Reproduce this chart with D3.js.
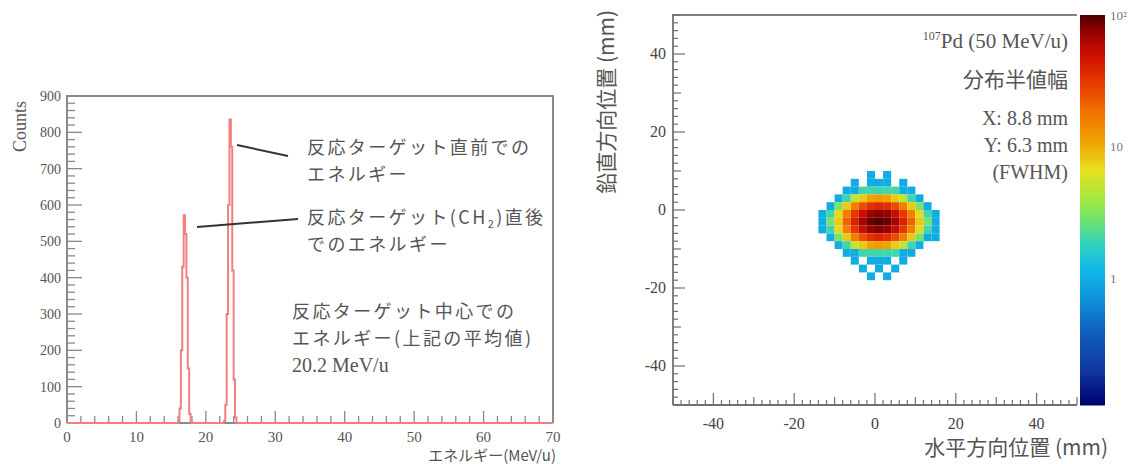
<!DOCTYPE html>
<html>
<head>
<meta charset="utf-8">
<script src="https://cdn.jsdelivr.net/npm/d3@7"></script>
<style>
  body { margin: 0; background: #fff; }
  svg { display: block; }
  .serif { font-family: "Liberation Serif", "DejaVu Serif", serif; }
  .jp { font-family: "Noto Sans CJK JP", sans-serif; }
</style>
</head>
<body>
<div id="chart"></div>
<script>
// ---- left panel: energy spectrum (bin low edges, width 0.2 MeV/u) ----
var binWidth = 0.2;
var binLow = [16.0, 16.2, 16.4, 16.6, 16.8, 17.0, 17.2, 17.4, 17.6, 17.8,
              22.6, 22.8, 23.0, 23.2, 23.4, 23.6, 23.8, 24.0, 24.2];
var binCounts = [5, 40, 200, 430, 572, 520, 400, 150, 25, 3,
                 5, 50, 300, 600, 835, 760, 420, 120, 15];
var energyTicks = [0, 10, 20, 30, 40, 50, 60, 70];
var countTicks = [0, 100, 200, 300, 400, 500, 600, 700, 800, 900];

// ---- right panel: beam spot (2 mm bins) ----
var xCenters = [-13, -11, -9, -7, -5, -3, -1, 1, 3, 5, 7, 9, 11, 13, 15, 17];
var yCenters = [11, 9, 7, 5, 3, 1, -1, -3, -5, -7, -9, -11, -13, -15, -17, -19];
var spotCounts = [
  [0, 0, 0, 0, 0, 0, 0, 0, 0, 0, 0, 0, 0, 0, 0, 0],
  [0, 0, 0, 0, 0, 0, 1, 0, 1, 0, 0, 0, 0, 0, 0, 0],
  [0, 0, 0, 0, 1, 0, 1, 1, 1, 0, 1, 0, 0, 0, 0, 0],
  [0, 0, 0, 1, 1, 2, 2, 2, 2, 2, 1, 1, 0, 0, 0, 0],
  [0, 0, 1, 2, 5, 8, 11, 12, 11, 8, 5, 2, 1, 0, 0, 0],
  [0, 1, 3, 8, 16, 26, 35, 39, 35, 26, 16, 8, 3, 1, 0, 0],
  [1, 2, 7, 16, 32, 53, 72, 79, 72, 53, 32, 16, 7, 2, 1, 0],
  [1, 3, 8, 21, 41, 67, 91, 100, 91, 67, 41, 21, 8, 3, 1, 0],
  [1, 2, 7, 16, 32, 53, 72, 79, 72, 53, 32, 16, 7, 2, 1, 0],
  [0, 1, 3, 8, 16, 26, 35, 39, 35, 26, 16, 8, 3, 1, 1, 0],
  [0, 0, 1, 2, 5, 8, 11, 12, 11, 8, 5, 2, 1, 0, 0, 0],
  [0, 0, 0, 1, 1, 2, 2, 2, 2, 2, 1, 1, 0, 0, 0, 0],
  [0, 0, 0, 0, 1, 0, 1, 1, 1, 0, 1, 0, 0, 0, 0, 0],
  [0, 0, 0, 0, 0, 1, 0, 1, 0, 1, 0, 0, 0, 0, 0, 0],
  [0, 0, 0, 0, 0, 0, 1, 0, 1, 0, 0, 0, 0, 0, 0, 0],
  [0, 0, 0, 0, 0, 0, 0, 0, 0, 0, 0, 0, 0, 0, 0, 0]
];
var posTicks = [-40, -20, 0, 20, 40];
var zTicks = [1, 10, 100];
var zTickLabels = ['1', '10', '10²'];

var svg = d3.select('#chart').append('svg')
    .attr('width', 1132)
    .attr('height', 464);

var axisGrey = '#8a8a8a';
var textGrey = '#555';

// ================= left panel =================
var x = d3.scaleLinear().domain([0, 70]).range([67, 553]);
var y = d3.scaleLinear().domain([0, 900]).range([423, 96]);

var left = svg.append('g');

// frame
left.append('path')
    .attr('d', 'M' + x(0) + ',' + y(0) + 'V' + y(900) + 'H' + x(70) + 'V' + y(0))
    .attr('fill', 'none')
    .attr('stroke', axisGrey)
    .attr('stroke-width', 2);

// minor + major ticks (inward)
var xMinor = d3.range(0, 71, 2);
left.selectAll('line.xmin').data(xMinor).enter().append('line')
    .attr('x1', function(d) { return x(d); })
    .attr('x2', function(d) { return x(d); })
    .attr('y1', y(0))
    .attr('y2', function(d) { return y(0) - (d % 10 === 0 ? 12 : 7); })
    .attr('stroke', axisGrey).attr('stroke-width', 1.3);

var yMinor = d3.range(0, 901, 20);
left.selectAll('line.ymin').data(yMinor).enter().append('line')
    .attr('y1', function(d) { return y(d); })
    .attr('y2', function(d) { return y(d); })
    .attr('x1', x(0))
    .attr('x2', function(d) { return x(0) + (d % 100 === 0 ? 15 : 8); })
    .attr('stroke', axisGrey).attr('stroke-width', 1.3);

// bottom axis line
left.append('line')
    .attr('x1', x(0)).attr('x2', x(70))
    .attr('y1', y(0)).attr('y2', y(0))
    .attr('stroke', axisGrey).attr('stroke-width', 2);

left.selectAll('text.xt').data(energyTicks).enter().append('text')
    .attr('class', 'serif')
    .attr('x', function(d) { return x(d); })
    .attr('y', 442)
    .attr('text-anchor', 'middle')
    .attr('font-size', 15)
    .attr('fill', textGrey)
    .text(function(d) { return d; });

left.selectAll('text.yt').data(countTicks).enter().append('text')
    .attr('class', 'serif')
    .attr('x', 61)
    .attr('y', function(d) { return y(d) + 5; })
    .attr('text-anchor', 'end')
    .attr('font-size', 14)
    .attr('fill', textGrey)
    .text(function(d) { return d; });

left.append('text')
    .attr('class', 'serif')
    .attr('transform', 'translate(26,101) rotate(-90)')
    .attr('text-anchor', 'end')
    .attr('font-size', 18)
    .attr('fill', textGrey)
    .text('Counts');

left.append('text')
    .attr('class', 'jp')
    .attr('x', 556)
    .attr('y', 461)
    .attr('text-anchor', 'end')
    .attr('font-size', 15)
    .attr('fill', textGrey)
    .text('エネルギー(MeV/u)');

// histogram as step line
var pts = [{ e: 0, c: 0 }];
binLow.forEach(function(lo, i) {
    var prevHi = i > 0 ? binLow[i - 1] + binWidth : null;
    if (prevHi !== null && Math.abs(prevHi - lo) > 1e-6) pts.push({ e: prevHi, c: 0 });
    pts.push({ e: lo, c: binCounts[i] });
});
pts.push({ e: binLow[binLow.length - 1] + binWidth, c: 0 });
pts.push({ e: 70, c: 0 });

var step = d3.line()
    .x(function(d) { return x(d.e); })
    .y(function(d) { return y(d.c); })
    .curve(d3.curveStepAfter);

left.append('path')
    .attr('d', step(pts))
    .attr('fill', 'none')
    .attr('stroke', '#f08080')
    .attr('stroke-width', 2);

// annotations
function jpLine(g, xs, ys, t) {
    return g.append('text')
        .attr('class', 'jp')
        .attr('x', xs)
        .attr('y', ys)
        .attr('font-size', 18)
        .attr('letter-spacing', 2.4)
        .attr('fill', textGrey)
        .text(t);
}
jpLine(left, 307, 154, '反応ターゲット直前での');
jpLine(left, 307, 181, 'エネルギー');

var t2 = jpLine(left, 307, 224, '');
t2.append('tspan').text('反応ターゲット(CH');
t2.append('tspan').attr('font-size', 11).attr('dy', 4).text('2');
t2.append('tspan').attr('dy', -4).text(')直後');
jpLine(left, 307, 251, 'でのエネルギー');

jpLine(left, 292, 318, '反応ターゲット中心での');
jpLine(left, 292, 345, 'エネルギー(上記の平均値)');
left.append('text')
    .attr('class', 'serif')
    .attr('x', 292).attr('y', 372)
    .attr('font-size', 20).attr('fill', textGrey)
    .text('20.2 MeV/u');

left.append('line')
    .attr('x1', 237).attr('y1', 145).attr('x2', 288).attr('y2', 156)
    .attr('stroke', '#333').attr('stroke-width', 2);
left.append('line')
    .attr('x1', 197).attr('y1', 227).attr('x2', 298).attr('y2', 219)
    .attr('stroke', '#333').attr('stroke-width', 2);

// ================= right panel =================
var px = d3.scaleLinear().domain([-50, 50]).range([673, 1077]);
var py = d3.scaleLinear().domain([-50, 50]).range([405, 15]);
var z = d3.scaleLog().domain([0.108, 100]).range([0, 1]).clamp(true);

var palette = d3.piecewise(d3.interpolateRgb, [
    '#000070', '#1038a0', '#1060c0', '#1090d8', '#10b8e8', '#30d0c0',
    '#60e080', '#a0e840', '#e8e020', '#f0a000', '#f07000', '#e84000',
    '#d01000', '#900000', '#500000'
]);
var paletteStops = [405, 370, 330, 300, 270, 245, 225, 200, 170, 140, 110, 85, 55, 30, 15];
var stopT = paletteStops.map(function(v) { return (405 - v) / 390; });
function zColor(v) {
    var t = z(v);
    // map colour-bar position t onto the palette stops
    var i = d3.bisectRight(stopT, t) - 1;
    i = Math.max(0, Math.min(stopT.length - 2, i));
    var f = (t - stopT[i]) / (stopT[i + 1] - stopT[i]);
    return palette((i + f) / (stopT.length - 1));
}

var right = svg.append('g');

var cells = [];
spotCounts.forEach(function(row, r) {
    row.forEach(function(v, c) {
        if (v > 0) cells.push({ x: xCenters[c], y: yCenters[r], v: v });
    });
});

right.selectAll('rect.cell').data(cells).enter().append('rect')
    .attr('x', function(d) { return px(d.x - 1); })
    .attr('y', function(d) { return py(d.y + 1); })
    .attr('width', px(2) - px(0))
    .attr('height', py(0) - py(2))
    .attr('fill', function(d) { return zColor(d.v); });

// frame
right.append('path')
    .attr('d', 'M' + px(-50) + ',' + py(-50) + 'V' + py(50) + 'H' + px(50))
    .attr('fill', 'none')
    .attr('stroke', '#808080')
    .attr('stroke-width', 2);
right.append('line')
    .attr('x1', px(-50)).attr('x2', px(50))
    .attr('y1', py(-50)).attr('y2', py(-50))
    .attr('stroke', '#707070').attr('stroke-width', 2);

var posMinor = d3.range(-50, 51, 2);
right.selectAll('line.pxm').data(posMinor).enter().append('line')
    .attr('x1', function(d) { return px(d); })
    .attr('x2', function(d) { return px(d); })
    .attr('y1', py(-50))
    .attr('y2', function(d) { return py(-50) - (d % 20 === 0 ? 12 : (d % 10 === 0 ? 8 : 5)); })
    .attr('stroke', '#707070').attr('stroke-width', 1.2);
right.selectAll('line.pym').data(posMinor).enter().append('line')
    .attr('y1', function(d) { return py(d); })
    .attr('y2', function(d) { return py(d); })
    .attr('x1', px(-50))
    .attr('x2', function(d) { return px(-50) + (d % 20 === 0 ? 12 : (d % 10 === 0 ? 8 : 5)); })
    .attr('stroke', '#707070').attr('stroke-width', 1.2);

right.selectAll('text.pxt').data(posTicks).enter().append('text')
    .attr('class', 'serif')
    .attr('x', function(d) { return px(d); })
    .attr('y', 429)
    .attr('text-anchor', 'middle')
    .attr('font-size', 16)
    .attr('fill', '#444')
    .text(function(d) { return d; });
right.selectAll('text.pyt').data(posTicks).enter().append('text')
    .attr('class', 'serif')
    .attr('x', 666)
    .attr('y', function(d) { return py(d) + 5; })
    .attr('text-anchor', 'end')
    .attr('font-size', 16)
    .attr('fill', '#444')
    .text(function(d) { return d; });

right.append('text')
    .attr('class', 'jp')
    .attr('x', 1108).attr('y', 455)
    .attr('text-anchor', 'end')
    .attr('font-size', 21).attr('fill', textGrey)
    .text('水平方向位置 (mm)');
right.append('text')
    .attr('class', 'jp')
    .attr('transform', 'translate(614,10) rotate(-90)')
    .attr('text-anchor', 'end')
    .attr('font-size', 21).attr('fill', textGrey)
    .text('鉛直方向位置 (mm)');

// colour bar
var zy = d3.scaleLog().domain([0.108, 100]).range([405, 15]);
var barSteps = d3.range(0, 390, 2);
right.selectAll('rect.bar').data(barSteps).enter().append('rect')
    .attr('x', 1080)
    .attr('y', function(d) { return 405 - d - 2; })
    .attr('width', 25)
    .attr('height', 2.5)
    .attr('fill', function(d) { return zColor(zy.invert(405 - d - 1)); });

right.selectAll('text.zt').data(zTicks).enter().append('text')
    .attr('class', 'serif')
    .attr('x', 1110)
    .attr('y', function(d) { return Math.max(zy(d) + 5, 20); })
    .attr('font-size', 13)
    .attr('fill', '#777')
    .text(function(d, i) { return zTickLabels[i]; });

// labels
var lab = right.append('text')
    .attr('class', 'serif')
    .attr('x', 1068).attr('y', 48)
    .attr('text-anchor', 'end')
    .attr('font-size', 21).attr('fill', textGrey);
lab.append('tspan').attr('font-size', 12).attr('dy', -8).text('107');
lab.append('tspan').attr('dy', 8).text('Pd (50 MeV/u)');

right.append('text')
    .attr('class', 'jp')
    .attr('x', 1068).attr('y', 87)
    .attr('text-anchor', 'end')
    .attr('font-size', 21).attr('fill', textGrey)
    .text('分布半値幅');
['X: 8.8 mm', 'Y: 6.3 mm', '(FWHM)'].forEach(function(t, i) {
    right.append('text')
        .attr('class', 'serif')
        .attr('x', 1068).attr('y', 125 + i * 27)
        .attr('text-anchor', 'end')
        .attr('font-size', 20).attr('fill', textGrey)
        .text(t);
});
</script>
</body>
</html>
